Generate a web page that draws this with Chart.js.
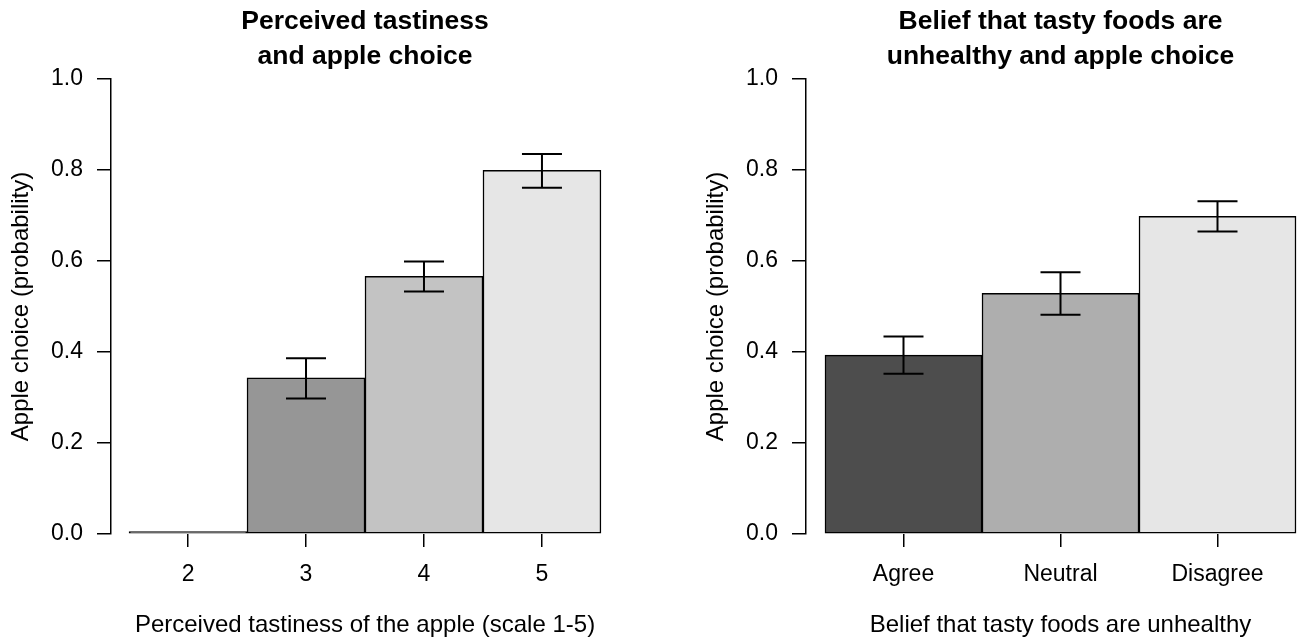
<!DOCTYPE html>
<html>
<head>
<meta charset="utf-8">
<script src="https://cdn.jsdelivr.net/npm/chart.js@4"></script>
<style>
html, body { margin: 0; padding: 0; background: #fff; overflow: hidden; }
#wrap { position: relative; width: 1299px; height: 639px; }
#left { position: absolute; left: 0; top: 0; }
#right { position: absolute; left: 650px; top: 0; }
</style>
</head>
<body>
<div id="wrap">
  <canvas id="left" width="650" height="639"></canvas>
  <canvas id="right" width="669" height="639"></canvas>
</div>
<script>
// left panel: perceived tastiness
var tasteLabels = ['2', '3', '4', '5']
var tasteX = [2, 3, 4, 5]
var tasteMean = [0, 0.343, 0.566, 0.799]
var tasteLow = [null, 0.298, 0.533, 0.761]
var tasteHigh = [null, 0.386, 0.599, 0.835]
var tasteColors = ['#4D4D4D', '#969696', '#C3C3C3', '#E6E6E6']

// right panel: belief that tasty = unhealthy
var beliefLabels = ['Agree', 'Neutral', 'Disagree']
var beliefX = [1, 2, 3]
var beliefMean = [0.393, 0.529, 0.698]
var beliefLow = [0.352, 0.482, 0.665]
var beliefHigh = [0.434, 0.575, 0.731]
var beliefColors = ['#4D4D4D', '#AEAEAE', '#E6E6E6']

var yTicks = [0, 0.2, 0.4, 0.6, 0.8, 1.0]

var FONT = "'Liberation Sans', Arial, sans-serif"

// draws the error bars from the dataset's errLow / errHigh
const errorBars = {
    id: 'errorBars',
    afterDatasetsDraw(chart) {
        const ctx = chart.ctx
        const xs = chart.scales.x
        const ys = chart.scales.y
        chart.data.datasets.forEach((ds) => {
            ds.data.forEach((pt, i) => {
                const lo = ds.errLow[i], hi = ds.errHigh[i]
                if (lo == null || hi == null) return
                const x = xs.getPixelForValue(pt.x)
                const y1 = ys.getPixelForValue(lo)
                const y2 = ys.getPixelForValue(hi)
                ctx.save()
                ctx.strokeStyle = '#000'
                ctx.lineWidth = 2
                ctx.beginPath()
                ctx.moveTo(x, y1); ctx.lineTo(x, y2)
                ctx.moveTo(x - 20, y1); ctx.lineTo(x + 20, y1)
                ctx.moveTo(x - 20, y2); ctx.lineTo(x + 20, y2)
                ctx.stroke()
                ctx.restore()
            })
        })
    }
}

function makeChart(id, labels, xs, means, lows, highs, colors, gap, padLeft, padRight, title, xTitle) {
    const data = xs.map((x, i) => ({ x: x, y: means[i] }))
    const xMin = xs[0] - 0.5 - gap
    const xMax = xs[xs.length - 1] + 0.5 + gap
    return new Chart(document.getElementById(id), {
        type: 'bar',
        data: {
            datasets: [{
                data: data,
                errLow: lows,
                errHigh: highs,
                backgroundColor: colors,
                borderColor: '#000',
                borderWidth: 1.5,
                borderSkipped: false,
                minBarLength: 2.5,
                barPercentage: 1,
                categoryPercentage: 1
            }]
        },
        options: {
            responsive: false,
            animation: false,
            layout: { padding: { left: padLeft, right: padRight, top: 0, bottom: 0 } },
            plugins: {
                legend: { display: false },
                tooltip: { enabled: false },
                title: {
                    display: true,
                    fullSize: false,
                    text: title,
                    color: '#000',
                    font: { family: FONT, size: 26.5, weight: 'bold', lineHeight: 1.32 },
                    padding: { top: 4.5, bottom: 4.5 }
                }
            },
            scales: {
                x: {
                    type: 'linear',
                    min: xMin,
                    max: xMax,
                    offset: false,
                    afterFit: (s) => { s.height = 105 },
                    afterBuildTicks: (s) => { s.ticks = xs.map(v => ({ value: v })) },
                    border: { display: false },
                    grid: { offset: false, drawOnChartArea: false, drawTicks: true, tickLength: 13, color: '#000', lineWidth: 1.5 },
                    ticks: {
                        padding: 14,
                        color: '#000',
                        font: { family: FONT, size: 23 },
                        callback: (v) => labels[xs.indexOf(v)]
                    },
                    title: {
                        display: true,
                        text: xTitle,
                        color: '#000',
                        font: { family: FONT, size: 24, lineHeight: 1 },
                        padding: { top: 0, bottom: 1.5 }
                    }
                },
                y: {
                    min: 0,
                    max: 1,
                    afterFit: (s) => { s.width = 111 },
                    afterBuildTicks: (s) => { s.ticks = yTicks.map(v => ({ value: v })) },
                    border: { display: true, color: '#000', width: 1.5 },
                    grid: { drawOnChartArea: false, drawTicks: true, tickLength: 14, color: '#000', lineWidth: 1.5 },
                    ticks: {
                        padding: 14,
                        color: '#000',
                        font: { family: FONT, size: 23 },
                        callback: (v) => v.toFixed(1)
                    },
                    title: {
                        display: true,
                        text: 'Apple choice (probability)',
                        color: '#000',
                        font: { family: FONT, size: 24 },
                        padding: { top: 7, bottom: 0 }
                    }
                }
            }
        },
        plugins: [errorBars]
    })
}

makeChart('left', tasteLabels, tasteX, tasteMean, tasteLow, tasteHigh, tasteColors,
    0.153, 0, 31, ['Perceived tastiness', 'and apple choice'],
    'Perceived tastiness of the apple (scale 1-5)')

makeChart('right', beliefLabels, beliefX, beliefMean, beliefLow, beliefHigh, beliefColors,
    0.121, 45, 4, ['Belief that tasty foods are', 'unhealthy and apple choice'],
    'Belief that tasty foods are unhealthy')
</script>
</body>
</html>
